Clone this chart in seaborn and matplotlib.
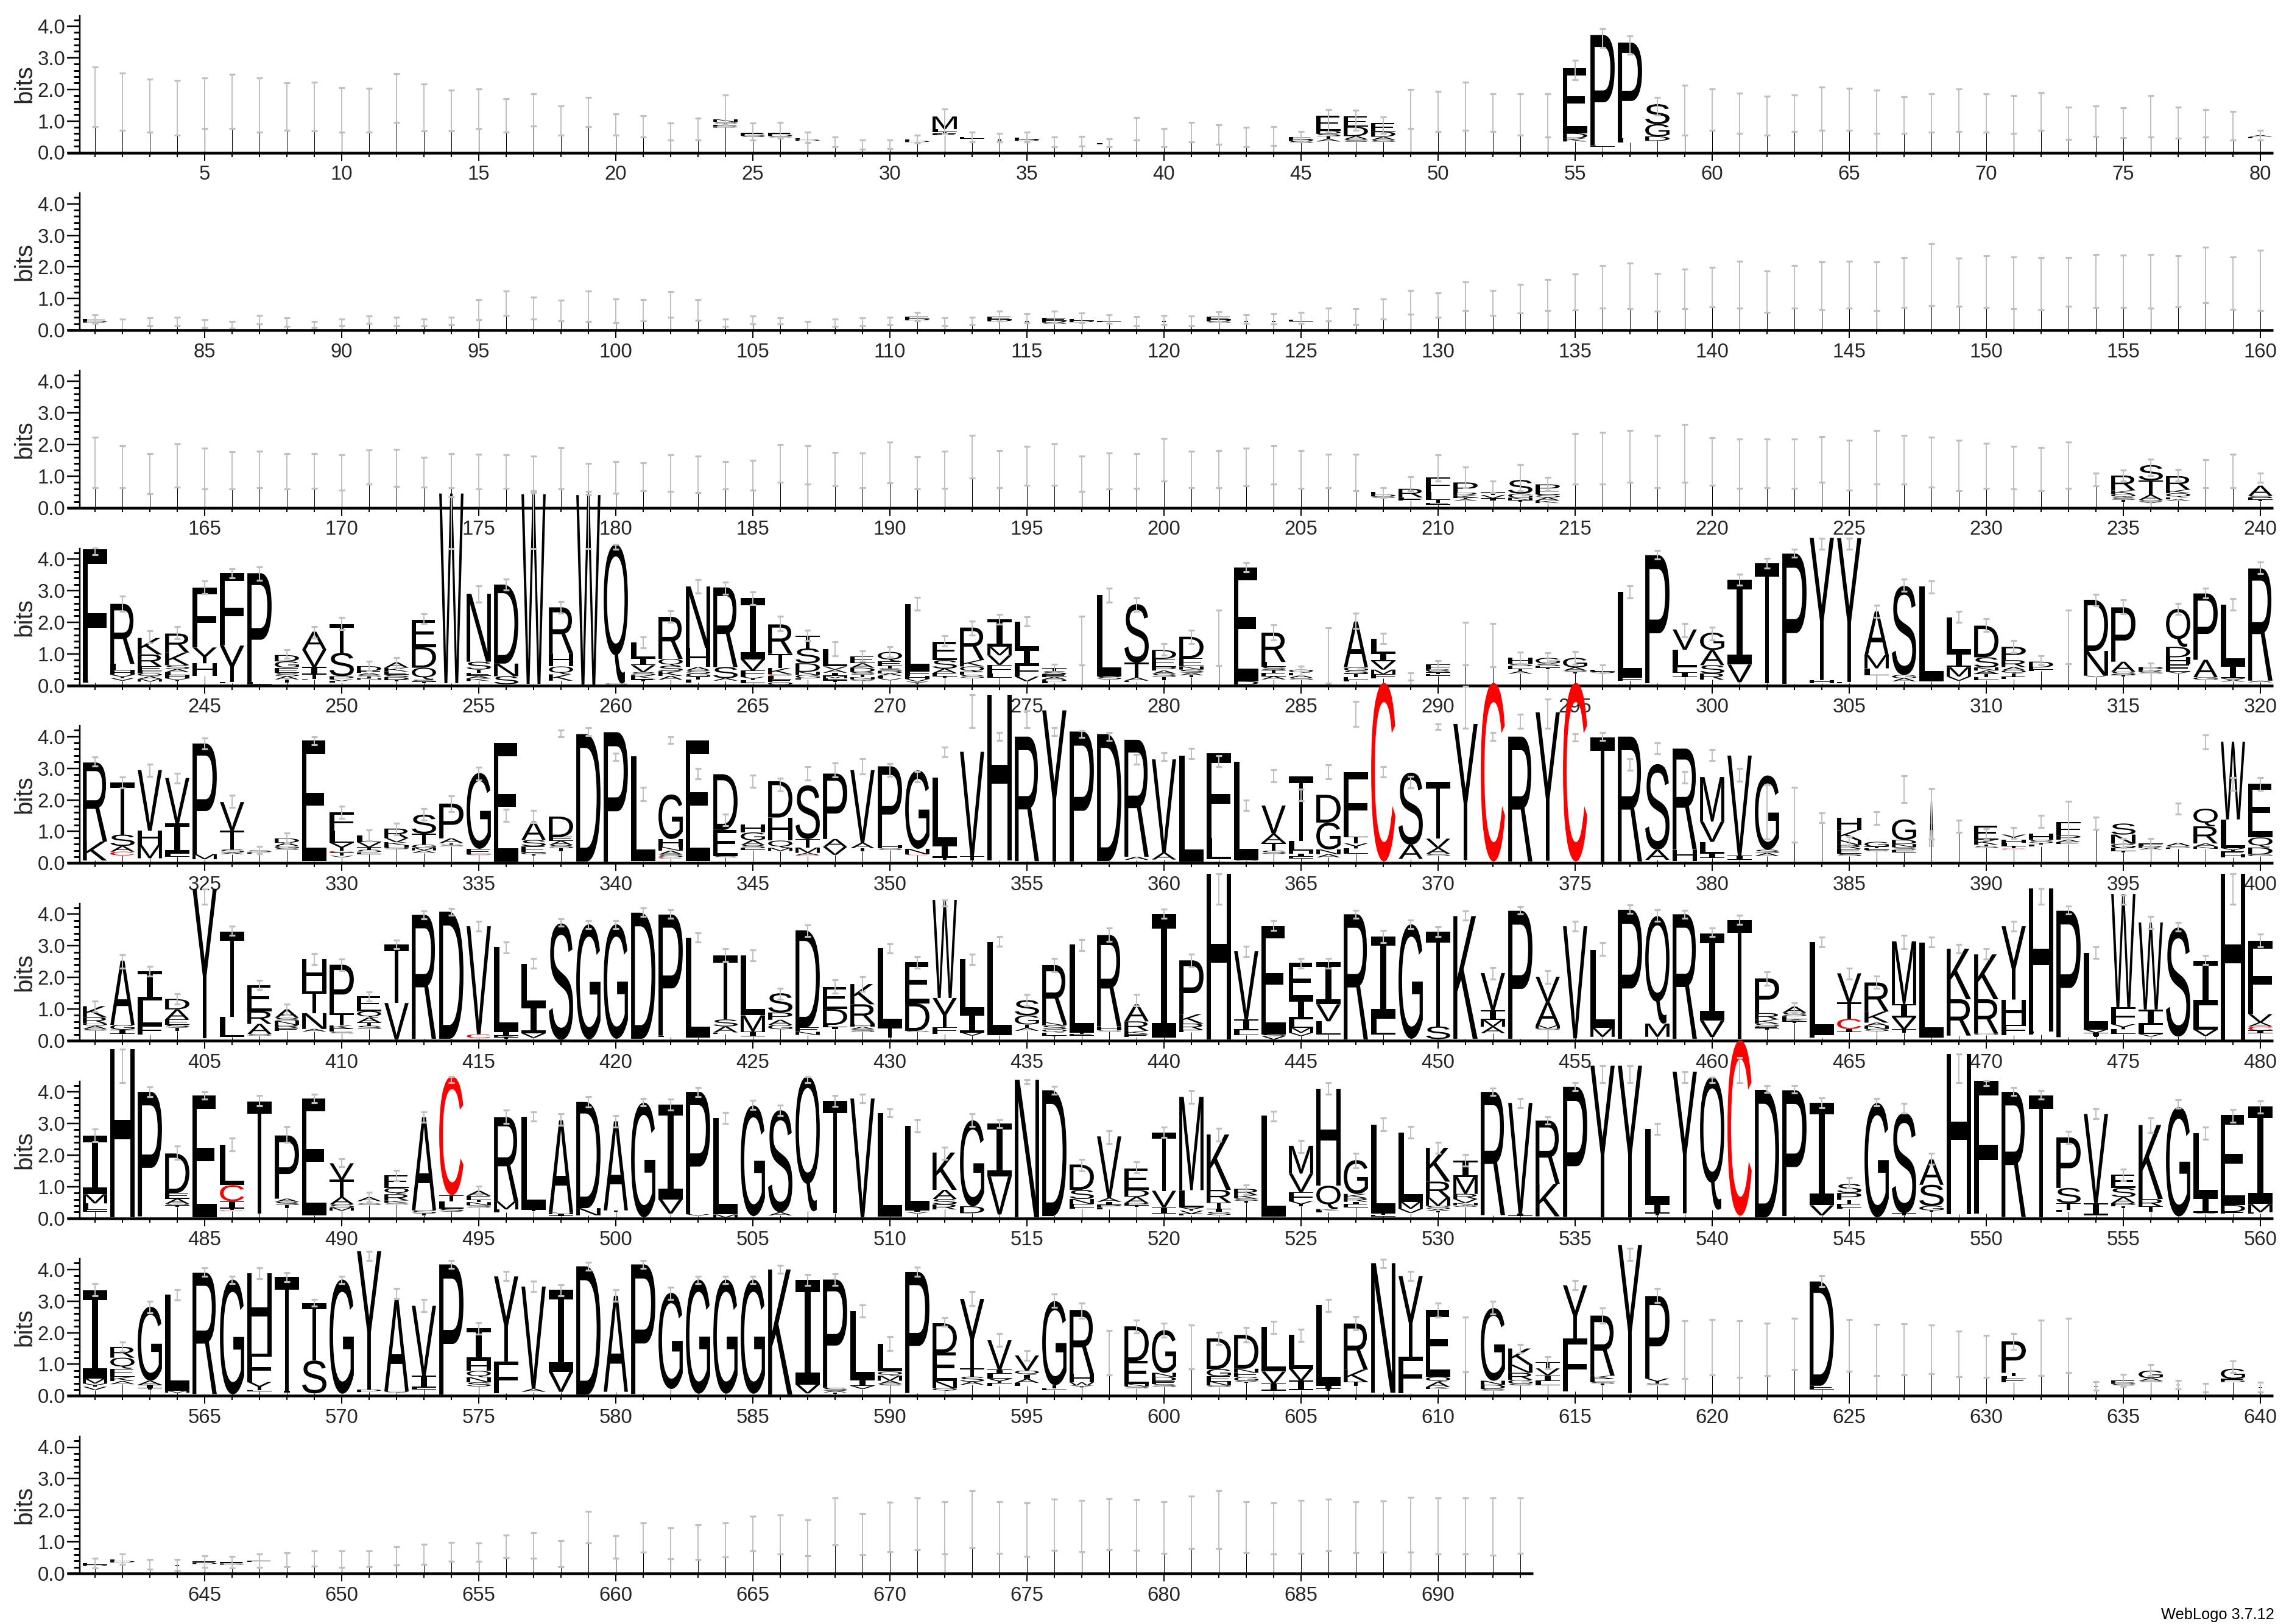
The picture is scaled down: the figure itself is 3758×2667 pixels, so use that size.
import matplotlib
matplotlib.use("Agg")
import matplotlib.pyplot as plt
import seaborn as sns
import pandas as pd
from matplotlib.font_manager import FontProperties
from matplotlib.patches import PathPatch
from matplotlib.textpath import TextPath
from matplotlib.transforms import Affine2D
from matplotlib.ticker import MultipleLocator

ROW_STARTS = [1, 81, 161, 241, 321, 401, 481, 561, 641]
ROW_ENDS = [80, 160, 240, 320, 400, 480, 560, 640, 693]

HI_1 = [2.7,2.52,2.33,2.28,2.36,2.47,2.36,2.2,2.23,2.06,2.04,2.49,2.16,1.97,2.02,1.71,1.85,1.48,1.74,1.22,1.17,.93,1.09,1.83,.93,.96,.64,.5,.39,.39,.55,1.38,.64,.61,.64,.5,.52,.43,1.11,.77,.96,.87,.8,.82,.66,1.35,1.33,1.12,1.99,1.94,2.23,1.86,1.85,1.86,2.91,3.93,3.69,1.74,2.12,2.01,1.88,1.78,1.83,2.07,2.04,1.97,1.76,1.86,2.02,1.85,1.81,1.9,1.43,1.48,1.41,1.8,1.44,1.35,1.3,.71]
LO_1 = [.82,.71,.64,.55,.77,.77,.64,.71,.68,.64,.64,.96,.68,.68,.77,.64,.84,.55,.82,.55,.5,.39,.39,.87,.39,.45,.32,.18,.1,.13,.29,.61,.34,.34,.34,.18,.21,.18,.39,.18,.34,.26,.18,.23,.34,.66,.71,.61,.77,.66,.71,.66,.55,.5,2.31,3.32,3.11,1.19,.55,.71,.61,.55,.66,.71,.71,.61,.61,.64,.66,.64,.61,.71,.41,.52,.48,.5,.45,.5,.39,.39]
HI_2 = [.49,.35,.38,.4,.33,.28,.46,.38,.28,.35,.45,.4,.35,.4,.97,1.23,1.04,.94,1.23,.99,.97,1.22,.96,.35,.44,.38,.28,.35,.38,.4,.56,.38,.4,.6,.53,.6,.54,.48,.43,.46,.44,.59,.49,.53,.56,.7,.67,.98,1.26,1.18,1.52,1.26,1.44,1.61,1.77,2.05,2.13,1.79,1.93,1.98,2.18,1.88,2.05,2.16,2.19,2.16,2.29,2.74,2.27,2.35,2.32,2.3,2.3,2.39,2.37,2.39,2.35,2.62,2.32,2.53]
LO_2 = [.21,.03,.14,.14,.09,.06,.19,.11,.09,.14,.21,.14,.14,.17,.33,.46,.35,.3,.27,.24,.3,.4,.32,.11,.19,.19,.03,.11,.14,.17,.3,.14,.17,.3,.24,.24,.24,.21,.14,.17,.14,.28,.21,.19,.22,.3,.17,.35,.51,.4,.62,.46,.54,.62,.64,.7,.67,.6,.67,.74,.7,.56,.7,.64,.7,.62,.72,.78,.76,.72,.67,.64,.76,.72,.72,.7,.74,.88,.65,.62]
HI_3 = [2.23,1.97,1.72,2.02,1.89,1.78,1.79,1.72,1.72,1.68,1.83,1.85,1.6,1.72,1.7,1.67,1.63,1.9,1.4,1.46,1.43,1.67,1.63,1.47,1.51,2.0,1.97,1.76,1.73,2.07,1.62,1.79,2.29,1.81,1.94,2.02,1.63,1.73,1.72,2.19,1.79,1.81,1.89,1.97,1.81,1.7,1.7,.64,.99,1.67,1.28,.85,1.36,.96,2.34,2.38,2.45,2.29,2.64,2.21,2.17,2.17,2.18,2.26,2.13,2.45,2.29,2.23,2.13,2.04,1.94,1.91,2.07,1.09,1.19,1.54,1.22,1.52,1.7,1.09]
LO_3 = [.64,.64,.45,.66,.59,.59,.64,.59,.62,.55,.74,.67,.66,.64,.59,.61,.53,.59,.51,.46,.53,.51,.48,.59,.55,.8,.74,.69,.64,.78,.59,.62,.94,.64,.72,.72,.51,.59,.62,.85,.64,.64,.69,.74,.62,.64,.53,.32,.53,.85,.64,.48,.53,.53,.74,.74,.8,.64,.8,.72,.62,.64,.62,.8,.55,.74,.74,.66,.53,.62,.59,.53,.62,.69,.85,1.01,.85,.64,.64,.8]
HI_4 = [4.35,2.82,1.73,1.86,3.3,3.7,3.74,1.12,1.86,2.15,.76,.88,2.27,5.97,3.15,3.37,6.1,2.66,6.05,4.46,1.54,2.37,3.34,3.26,2.95,2.18,1.75,1.38,1.09,1.22,2.79,1.57,2.03,2.25,2.16,.66,2.18,3.07,2.76,1.32,1.75,2.39,3.88,1.91,.61,1.83,2.28,1.64,.4,.79,1.99,1.96,1.05,1.03,1.07,.64,3.15,4.27,1.95,1.84,3.51,4.01,4.3,4.66,4.66,2.54,3.36,3.31,2.34,2.12,1.41,.94,2.39,2.89,2.7,.71,2.6,3.08,2.74,3.9]
LO_4 = [4.13,2.34,1.35,1.48,2.9,3.4,3.32,.85,1.5,1.77,.48,.55,1.95,4.33,2.63,3.02,4.33,2.28,4.33,4.3,1.19,1.99,2.93,2.89,2.55,1.73,1.41,.93,.77,.9,2.38,1.25,1.6,1.93,1.89,.42,.64,2.63,2.34,.96,1.32,.63,3.6,1.44,.32,.06,1.8,1.32,.16,.48,.64,.58,.69,.72,.67,.39,2.76,4.0,1.54,1.44,3.18,3.72,4.06,4.3,4.3,2.15,2.97,2.92,1.99,1.7,1.03,.64,.69,2.52,2.26,.45,2.25,2.76,2.38,3.53]
HI_5 = [3.36,2.72,3.12,2.83,3.96,2.14,.52,.95,4.0,1.8,1.05,1.25,1.73,2.12,3.04,1.7,1.66,4.2,4.28,3.47,2.4,4.0,3.0,1.55,2.78,2.69,3.05,3.16,3.3,3.15,2.9,3.67,5.33,4.13,4.83,4.29,4.19,4.13,3.44,3.49,3.63,3.39,2.0,2.96,2.34,3.1,5.12,3.05,2.75,4.4,5.6,4.13,4.7,5.18,4.1,4.13,3.3,3.81,2.9,3.58,3.0,2.48,2.39,1.58,.83,1.62,2.77,2.35,1.36,1.08,1.12,1.5,1.95,1.46,.78,.77,1.9,4.05,2.71,2.71]
LO_5 = [3.07,2.37,2.75,2.53,3.6,1.76,.29,.64,3.74,1.41,.7,.9,1.36,1.63,2.62,1.31,1.28,4.0,4.03,3.24,1.98,3.78,2.66,1.18,2.4,2.27,2.62,2.72,2.82,2.74,2.56,3.36,4.29,3.87,4.29,4.03,3.97,3.87,3.12,3.24,3.3,3.05,1.66,2.56,1.98,2.66,4.32,2.72,2.37,4.22,4.27,3.87,4.26,4.27,3.86,3.87,2.93,3.46,2.53,3.25,2.59,.76,.67,1.28,.54,1.22,1.92,.76,.97,.74,.77,1.12,.64,1.06,.48,.48,1.54,3.6,2.3,2.3]
HI_6 = [1.26,2.72,2.35,1.49,4.8,3.63,1.9,1.15,2.75,2.59,1.55,3.17,4.1,4.19,3.78,3.12,2.6,3.86,3.8,3.8,4.2,4.14,3.41,2.9,2.88,1.66,3.67,1.92,2.02,3.06,2.66,4.45,2.74,3.3,1.47,2.6,3.2,3.56,1.47,4.16,2.74,5.27,2.99,3.79,2.6,2.6,4.13,3.49,3.81,3.6,4.1,2.32,4.24,2.21,3.78,3.1,4.29,4.14,4.13,3.57,3.97,2.18,1.2,3.28,2.3,2.04,3.33,3.28,3.05,2.91,3.78,4.82,4.25,2.96,4.6,3.94,3.74,2.69,5.27,3.37]
LO_6 = [.93,2.3,2.05,1.15,4.32,3.33,1.62,.83,2.4,2.21,1.25,2.91,3.86,3.97,3.46,2.78,2.3,3.63,3.55,3.55,3.94,3.87,3.12,2.5,2.52,1.31,3.3,1.5,1.57,2.78,2.3,4.26,2.4,2.98,1.09,2.18,2.85,3.14,1.09,3.87,2.34,4.32,2.66,3.49,2.3,2.3,3.87,3.1,3.55,3.3,3.81,1.95,4.0,1.82,3.46,2.7,4.03,3.78,3.87,3.3,3.68,1.76,.88,2.96,1.95,1.66,2.91,2.96,2.78,2.58,3.46,4.32,4.0,2.6,4.32,3.55,3.46,2.4,4.32,2.96]
HI_7 = [2.83,5.36,4.15,2.29,4.0,2.54,3.88,2.9,3.92,1.89,.83,1.52,3.36,4.48,1.01,3.42,3.36,3.3,3.84,3.25,3.79,3.78,4.13,3.34,3.73,3.58,4.49,3.89,3.92,3.47,3.12,2.25,3.3,3.12,4.38,4.17,1.86,2.77,1.78,2.89,4.04,2.85,1.06,3.39,2.46,4.29,2.05,3.17,2.9,2.4,2.02,4.12,3.79,3.21,4.29,4.83,4.83,3.0,4.64,4.47,5.09,4.2,4.2,3.81,1.29,3.79,3.63,2.05,5.2,4.35,4.13,4.05,2.74,3.47,1.55,3.17,3.75,2.88,3.45,3.71]
LO_7 = [2.43,4.3,3.84,1.86,3.78,2.13,3.55,2.4,3.66,1.63,.51,1.18,3.04,4.29,.74,3.0,3.07,2.94,3.52,2.89,3.55,3.42,3.84,3.0,3.44,3.26,4.29,3.53,3.66,3.21,2.73,1.87,2.91,2.87,4.26,3.92,1.5,2.37,1.44,2.56,3.64,2.45,.74,3.08,2.08,3.92,1.6,2.77,2.53,2.05,1.66,3.89,3.51,2.98,4.04,4.29,4.29,2.66,4.29,4.29,4.29,3.98,3.97,3.5,.96,3.55,3.33,1.7,4.3,4.19,3.89,3.78,2.37,3.16,1.18,2.72,3.49,2.5,3.04,3.33]
HI_8 = [3.56,1.71,3.0,3.36,4.05,3.78,4.05,3.9,3.05,3.78,4.58,3.39,3.05,4.29,2.32,3.94,3.63,3.52,4.22,3.36,4.29,3.44,3.78,3.78,3.78,4.13,3.84,3.87,2.88,1.87,4.08,2.48,3.31,1.98,1.44,3.22,2.94,2.06,2.4,2.31,2.24,2.01,2.16,2.36,2.11,3.05,2.51,4.33,3.94,2.94,2.5,3.0,1.63,1.25,3.65,2.78,4.67,3.4,2.37,2.41,2.37,2.3,2.46,3.8,2.41,2.27,2.28,2.25,2.05,1.92,1.98,2.4,2.45,.45,.68,.99,.49,.4,1.1,.43]
LO_8 = [3.17,1.41,2.62,3.04,3.78,3.56,3.71,3.62,2.84,3.56,4.29,3.07,2.66,4.03,1.95,3.65,3.3,3.17,3.97,3.0,4.03,3.05,3.56,3.56,3.56,3.88,3.5,3.49,2.5,1.44,3.78,2.2,2.85,1.57,1.12,2.8,2.46,.67,2.0,1.86,.86,1.63,1.7,1.98,1.73,2.67,2.09,4.05,3.65,2.5,.76,2.58,1.35,.86,3.36,2.3,4.29,2.96,.55,.67,.58,.65,.83,3.46,.77,.64,.66,.7,.61,.58,1.48,.64,.74,.19,.29,.64,.22,.13,.74,.13]
HI_9 = [.48,.61,.44,.45,.57,.54,.62,.66,.71,.72,.72,.85,.93,.99,.97,1.22,1.29,1.05,1.97,1.19,1.6,1.44,1.54,1.6,1.81,1.86,1.7,2.39,1.89,2.26,2.39,2.28,2.62,2.28,2.24,2.35,2.32,2.37,2.33,2.28,2.44,2.62,2.28,2.24,2.31,2.35,2.28,2.3,2.42,2.4,2.4,2.39,2.4]
LO_9 = [.17,.3,.13,.1,.2,.17,.19,.22,.24,.2,.22,.27,.3,.38,.38,.51,.48,.22,.96,.48,.67,.46,.45,.53,.71,.61,.56,.9,.59,.69,.76,.62,.81,.64,.54,.74,.69,.76,.74,.64,.8,.79,.65,.61,.64,.72,.65,.67,.67,.62,.62,.58,.63]

STACKS_1 = {24: "1.05 N.08 S.05 T.05 E.04 D.04", 25: ".62 E.05 D.04 S.04", 26: ".62 E.05 D.05 S.04", 27: ".45 E.04 D.04",
    31: ".42 E.05 D.04", 32: "1.14 M.4 L.08 T.06 E.05", 33: ".5 E.06", 34: ".42 T.05", 35: ".48 E.06 D.05", 38: ".3 L.04", 45: ".5 E.08 D.06 S.05",
    46: "1.16 E.47 D.1 S.08 T.08 A.08", 47: "1.14 E.32 D.3 A.1 S.08", 48: ".93 E.27 D.16 A.1 S.06",
    55: "2.66 E2.05 D.16 K.1", 56: "3.72 P3.49 L.04", 57: "3.48 P3.03 L.14", 58: "1.53 S.63 G.39 D.14", 80: ".55 A.05 E.05"}
STACKS_2 = {81: ".35 E.06 D.05", 111: ".42 E.06 D.05", 114: ".42 E.08 D.06", 115: ".3 T.04", 116: ".38 E.08 D.06 S.04", 117: ".36 E.06 D.05",
    118: ".3 L.04", 120: ".3 T.04", 122: ".42 E.08 D.06 S.04", 123: ".3 T.04", 124: ".3 T.04", 125: ".33 E.05"}
STACKS_3 = {208: ".5 E.08 D.06 S.05", 209: ".6 R.27 L.05 E.05", 210: ".97 F.48 L.24 T.1 E.05", 211: ".8 P.32 R.08 K.08 T.05 A.05",
    212: ".5 T.1 V.1 I.08", 213: ".88 S.43 G.13 N.08 T.05", 214: ".74 P.21 E.1 S.1 A.1 K.08",
    235: "1.02 R.47 K.12 Q.1 S.08 T.05", 236: "1.35 S.48 T.46 A.16 S.05 V.05", 237: "1.0 R.43 K.11 Q.13 E.06 A.05", 240: ".7 A.32 S.06 E.06 T.05"}
STACKS_4 = {241: "4.3 F4.17 L.05", 242: "2.58 R1.9 L.2 H.15 Y.1 V.08", 243: "1.5 K.52 R.38 E.12 F.1 Q.1 A.08 M.08", 244: "1.64 R.6 K.4 S.12 A.1 L.1 H.1 Y.08",
    245: "3.1 F1.9 Y.5 H.4", 246: "3.56 F2.3 Y1.15 L.05", 247: "3.55 P3.45 L.06", 248: ".96 D.2 G.2 E.17 S.1 A.1 T.1", 249: "1.7 A.57 V.55 I.22 T.15 L.03", 250: "1.93 T.9 S.74 P.1 V.05 L.05",
    251: ".61 D.16 E.06 A.06 S.05 T.05 N.05", 252: ".73 A.17 K.12 E.1 S.08 D.08 T.06", 253: "2.08 E.87 D.65 Q.38 S.06 T.06", 254: "6.07 W6.0", 255: "2.9 N2.15 S.25 T.1 E.1 A.08 K.08",
    256: "3.19 D2.5 N.4 S.25", 257: "6.05 W6.0", 258: "2.47 R1.45 H.42 Q.25 K.2", 259: "6.02 W6.0", 260: "4.46 Q4.4 S.03",
    261: "1.36 L.5 I.22 V.22 S.1 K.1 E.05 T.05", 262: "2.17 R1.33 Q.22 S.17 K.15 A.12", 263: "3.13 N1.95 H.6 A.1 S.1 G.1 T.1 L.1", 264: "3.1 R2.52 S.35 A.08", 265: "2.77 I1.95 V.35 F.2 Y.1 L.1",
    266: "1.93 R.93 T.45 K.2 C.05 L.1 E.1 Q.1", 267: "1.57 T.4 S.47 D.27 N.1 G.1 L.05", 268: "1.15 L.55 V.1 A.1 I.1 M.07 F.07 T.05", 269: ".92 E.22 A.14 D.14 S.08 T.08 N.06 Q.06", 270: "1.06 Q.3 E.14 T.08 S.08 D.08 A.08 L.08 V.06",
    271: "2.58 L2.13 F.15 H.1 V.08 Y.06", 272: "1.37 E.57 S.27 A.14 E.1 T.05", 273: "1.83 R1.03 K.2 Q.17 E.1 S.1", 274: "2.09 I.87 M.27 V.3 F.27 L.13", 275: "2.02 L.87 I.5 F.37 V.15",
    276: ".55 T.1 S.1 E.08 A.08 D.06 L.06", 278: "2.87 L2.58 S.1", 279: "2.57 S1.85 T.47 A.1 E.05", 280: "1.12 D.28 E.25 P.12 A.1 S.1 T.1",
    281: "1.54 D.68 E.26 N.1 S.1 A.08 T.06", 283: "3.73 E3.6 D.1", 284: "1.67 R.93 L.15 S.1 T.1 E.1 A.1", 285: ".5 Q.1 E.08 A.08 S.06", 287: "2.02 A1.45 G.1 S.1 T.1 E.1 L.05",
    288: "1.48 L.45 I.26 V.27 M.15 F.12", 290: ".67 F.16 R.05 S.05 T.05 E.05", 293: ".87 H.18 S.08 E.08 T.08 A.08", 294: ".87 G.18 S.08 E.05 T.05", 295: ".87 G.3 A.1 S.05 T.05",
    296: ".5 E.06 S.05", 297: "2.95 L2.7 F.1", 298: "4.12 P4.05", 299: "1.77 V.64 L.55 F.16 I.16", 300: "1.67 G.55 A.48 S.26 R.2",
    301: "3.34 I2.68 V.56", 302: "3.87 T3.8", 303: "4.17 P4.12", 304: "4.67 Y4.5 H.1", 305: "4.66 Y4.55 F.05",
    306: "2.34 A1.38 M.42 L.22", 307: "3.15 S2.82 G.1 A.1", 308: "3.13 L3.0", 309: "2.15 L1.12 I.45 M.3 V.13", 310: "1.89 D1.0 S.32 N.1 A.1 T.1 E.1",
    311: "1.22 P.42 R.22 A.1 Q.1 T.1 E.08", 312: ".75 D.18 E.07 F.05", 314: "2.71 D1.62 N.78 V.05", 315: "2.47 P1.72 A.32 S.1 T.05", 316: ".58 P.1 R.05 S.05",
    317: "2.42 Q1.2 D.33 H.23 E.23 V.05", 318: "2.91 P2.1 A.55 G.08", 319: "2.56 L1.92 I.42 V.05 A.05", 320: "3.7 R3.55 A.05"}
STACKS_5 = {321: "3.18 R2.5 K.6", 322: "2.55 T1.65 S.36 A.18 C.12", 323: "2.94 V1.92 H.45 M.42", 324: "2.69 V1.44 I.95 L.1", 325: "3.78 P3.5 M.16",
    326: "1.93 V.9 T.6 S.1 A.05", 327: ".4 S.06 E.05", 328: ".78 D.14 A.1 G.07 S.05", 329: "3.87 E3.8", 330: "1.6 F.58 L.38 Y.26 C.05 T.1 V.05",
    331: ".88 L.22 V.16 T.08 S.08 E.06", 332: "1.09 R.3 V.13 K.1 H.07 S.05", 333: "1.53 S.6 T.35 G.1 M.08 A.08", 334: "1.88 P1.1 A.15 T.05 S.05", 335: "2.85 G2.4 E.17 C.03",
    336: "3.8 E3.75", 337: "1.31 A.58 S.2 E.2 G.05 T.05", 338: "1.47 D.64 E.13 A.13 S.1 T.1", 339: "4.08 D4.03", 340: "4.14 P4.1",
    341: "3.37 L3.3", 342: "2.17 G1.41 H.25 N.12 A.12 S.08 C.05", 343: "3.88 E3.82", 344: "2.81 D1.76 E.83 S.04", 345: "1.22 H.25 G.25 A.15 S.1 E.05",
    346: "2.59 D1.15 H.73 Q.23 M.1", 347: "2.46 S1.7 T.27 M.17 A.07 C.03", 348: "2.83 P2.07 A.25 V.25", 349: "2.94 V2.3 A.17 T.1", 350: "3.06 P2.5 H.1 S.05",
    351: "2.93 G2.48 N.17 C.03", 352: "2.7 L2.12 I.42 T.05", 353: "3.52 V3.3 T.13", 354: "5.33 H5.25", 355: "4.0 R3.94",
    356: "4.83 Y4.78", 357: "4.16 P4.11", 358: "4.08 D4.02", 359: "3.9 R3.7 A.1", 360: "3.28 V2.95 A.22",
    361: "3.4 L3.35", 362: "3.47 F2.67 L.67", 363: "3.2 L3.1 S.03", 364: "1.82 V.9 A.28 T.25 S.1", 365: "2.75 T2.05 L.3 H.1 I.1 E.05",
    366: "2.16 D.88 G.85 N.15 A.1", 367: "2.87 F2.03 T.22 Y.16 L.16", 368: "5.7 C5.65", 369: "2.86 S2.28 A.45", 370: "2.56 T1.79 V.29 A.19 S.06",
    371: "4.4 Y4.3", 372: "5.7 C5.65", 373: "4.0 R3.95", 374: "4.77 Y4.7", 375: "5.7 C5.65",
    376: "3.98 T3.93", 377: "4.0 R3.95", 378: "3.13 S2.71 A.32", 379: "3.62 R3.2 H.35", 380: "2.72 M1.41 V.64 L.35 I.16",
    381: "3.4 V3.17 I.13", 382: "2.77 G2.35 S.1 A.1", 385: "1.44 H.4 K.32 N.15 R.12 E.15 S.08", 386: ".67 G.15 T.05 E.05 S.05", 387: "1.38 G.65 D.13 N.1 S.08 E.08",
    390: "1.18 E.45 K.15 T.05 S.05", 391: ".9 Y.16 H.1 L.1 T.08 C.03", 392: ".93 H.2 S.1 T.05 L.05", 393: "1.3 F.43 P.13 A.08 E.06", 395: "1.25 S.35 N.29 G.13 E.1 T.05",
    396: ".62 F.08 R.06 A.05", 397: ".64 A.1 S.05 E.05", 398: "1.72 Q.56 R.54 A.1 N.07", 399: "3.84 W2.46 L.91 Y.1 E.1 H.1", 400: "2.51 E1.7 Q.32 D.22 G.05"}
STACKS_6 = {401: "1.09 K.35 R.2 Q.07 A.1 S.05", 402: "2.53 A2.03 G.15 I.13", 403: "2.2 I.92 L.8 F.29", 404: "1.32 D.33 A.32 E.16 S.1 T.1", 405: "4.8 Y4.72",
    406: "3.45 T2.69 L.65", 407: "1.76 E.83 R.4 A.32 S.05", 408: ".99 A.27 S.1 N.12 R.1 E.1", 409: "2.58 H1.01 T.7 N.5 A.08", 410: "2.4 P1.54 T.38 K.1 E.1 S.05",
    411: "1.41 E.48 Q.2 A.16 T.1 S.1", 412: "3.04 T1.85 V1.15", 413: "3.98 R3.92", 414: "4.08 D4.02", 415: "3.62 V3.42 C.12",
    416: "2.96 L2.68 I.12 K.05 T.05", 417: "2.43 L1.3 I.9 V.14", 418: "3.71 S3.68", 419: "3.68 G3.64", 420: "3.68 G3.62",
    421: "4.05 D3.99", 422: "3.99 P3.83 L.05", 423: "3.26 L3.17", 424: "2.69 T2.02 S.22 A.19 E.05", 425: "2.69 L1.89 M.51 I.16",
    426: "1.5 S.61 P.23 A.16 G.14", 427: "3.49 D3.07 E.14 N.1", 428: "1.7 E.7 D.5 L.07 I.07", 429: "1.79 K.64 R.61 H.1 A.08 S.08", 430: "2.92 L2.5 T.32",
    431: "2.48 E1.3 D.87 S.03", 432: "4.45 W3.1 Y.93 F.2", 433: "2.58 L1.72 I.6 V.1", 434: "3.12 L2.95", 435: "1.28 S.48 G.29 T.1 A.1",
    436: "2.39 R1.81 N.1 S.12 Q.1 E.1 T.03", 437: "3.04 L2.78 T.05 E.05", 438: "3.34 R2.89 H.13 S.03", 439: "1.15 A.54 R.3 K.1 E.1", 440: "4.0 I3.9",
    441: "2.54 P1.7 K.3 R.2 E.07", 442: "5.27 H5.23", 443: "2.83 V2.15 I.35 L.15", 444: "3.62 E3.42 S.06 V.1", 445: "2.46 E1.15 I.64 L.26 M.16 V.1",
    446: "2.49 I1.34 V.54 L.42", 447: "4.0 R3.96", 448: "3.3 I2.6 L.5", 449: "3.68 G3.62", 450: "3.44 T2.99 S.4",
    451: "3.94 K3.88", 452: "2.14 V1.18 I.3 M.22 A.2", 453: "4.11 P4.05", 454: "2.02 V.8 A.74 M.1 S.04", 455: "3.62 V3.55",
    456: "2.88 L2.47 M.29", 457: "4.14 P4.08", 458: "3.94 Q3.4 M.42", 459: "4.0 R3.94", 460: "3.4 I2.77 V.52",
    461: "3.82 T3.76", 462: "1.97 P1.1 R.2 K.13 S.1 E.05 T.05", 463: "1.08 A.2 S.1 E.1 K.07 T.05", 464: "3.12 L2.93 F.1", 465: "2.13 V.92 T.52 C.32 I.1",
    466: "1.84 R.92 K.35 A.1 N.1 S.07", 467: "3.14 M1.98 I.42 V.38 T.1", 468: "3.1 L3.0", 469: "2.91 K1.6 R1.15", 470: "2.73 K1.42 R1.09 Q.04",
    471: "3.62 Y2.32 H.8 F.32", 472: "4.82 H4.53 F.05 E.05", 473: "4.11 P4.0", 474: "2.78 L2.43 V.1 I.1 T.03", 475: "4.64 W3.58 F.54 Y.16 L.14",
    476: "3.74 W2.75 I.48 L.3 V.08", 477: "3.58 S3.45", 478: "2.53 I1.41 L.77 V.2", 479: "5.27 H5.25", 480: "3.16 F2.32 V.26 A.13 C.13 I.08"}
STACKS_7 = {481: "2.61 I1.85 M.29 L.2 E.06", 482: "5.36 H5.33", 483: "4.0 P3.94", 484: "2.05 D1.25 E.18 A.16 S.05 T.05", 485: "3.89 E3.86",
    486: "2.32 L1.27 C.51 I.23 T.05 C.03", 487: "3.7 T3.55", 488: "2.62 P2.0 A.1 S.1 T.1", 489: "3.79 E3.7", 490: "1.74 V.52 T.55 A.23 S.1 M.1",
    491: ".67 A.13 T.07 S.05", 492: "1.36 E.4 Q.2 R.2 K.07 S.05", 493: "3.2 A2.95 S.1 T.05", 494: "4.49 C3.76 T.2 L.22 S.1", 495: ".87 A.16 E.13 T.07 N.1 S.07",
    496: "3.2 R2.66 M.26 L.1", 497: "3.22 L2.95 T.05", 498: "3.1 A2.92 N.05 I.05", 499: "3.68 D3.36 N.23", 500: "3.07 A2.82 T.05",
    501: "3.66 G3.63", 502: "3.6 I3.0 V.45", 503: "4.0 P3.87 V.05", 504: "3.17 L3.05 M.1", 505: "3.57 G3.5",
    506: "3.42 S3.23 A.1", 507: "4.49 Q4.27", 508: "3.72 T3.56", 509: "3.79 V3.76", 510: "3.33 L3.27",
    511: "2.93 L2.68 I.05 V.05", 512: "2.08 K1.18 A.29 S.17 R.16", 513: "3.1 G2.72 D.22", 514: "3.0 I1.68 V1.2", 515: "4.38 N4.35",
    516: "4.05 D3.98", 517: "1.7 D.8 S.29 N.16 E.1 L.05", 518: "2.59 V1.95 A.12 I.1 P.07 L.07", 519: "1.57 E.67 D.22 A.2 P.07 T.05", 520: "2.72 T1.85 V.52 I.2",
    521: "3.84 M2.95 L.55 Y.1 V.1 E.05", 522: "2.65 K1.75 R.4 T.2 I.1 S.1", 523: ".93 R.2 K.1 S.08 T.06", 524: "3.25 L3.2", 525: "2.29 M.88 V.58 F.29 Y.16",
    526: "4.1 H3.07 Q.74 K.05 L.05", 527: "1.84 G1.07 K.13 R.12 I.07 E.1", 528: "2.96 L2.8 T.05 E.05", 529: "2.72 L2.2 M.22 V.13", 530: "2.23 K1.07 R.51 M.26 S.1 A.06 T.05",
    531: "1.82 I.51 M.54 R.16 V.13 N.07 A.05", 532: "4.0 R3.9", 533: "3.65 V3.5 I.07", 534: "3.09 R2.0 K1.03", 535: "4.16 P4.12",
    536: "4.83 Y4.8", 537: "4.83 Y4.8", 538: "2.82 L2.37 I.3 T.05", 539: "4.64 Y4.48", 540: "4.47 Q4.2",
    541: "5.63 C5.55", 542: "4.06 D4.03", 543: "4.05 P3.98", 544: "3.66 I3.25 V.32", 545: "1.09 S.29 P.22 T.13 E.1 L.05",
    546: "3.65 G3.62", 547: "3.33 S3.17 T.06", 548: "1.86 A.8 S.67 G.14 T.05", 549: "5.2 H5.08", 550: "4.35 F4.2",
    551: "4.0 R3.96", 552: "3.89 T3.85", 553: "2.56 P1.6 S.48 T.22 L.05", 554: "3.3 V2.82 I.38", 555: "1.38 E.42 S.29 A.19 P.1 T.05",
    556: "2.95 K2.34 R.24 T.16", 557: "3.52 G3.46", 558: "2.69 L2.02 I.5 V.03", 559: "3.27 E2.85 D.22 E.05", 560: "3.53 I3.08 M.26 L.05"}
STACKS_8 = {561: "3.35 I2.8 M.16 Y.1 V.1", 562: "1.55 R.34 Q.35 E.26 K.13 A.1", 563: "2.82 G2.34 A.13 I.1 T.05", 564: "3.2 L3.04 M.06", 565: "3.9 R3.84",
    566: "3.68 G3.63", 567: "3.88 H2.54 F.9 Y.26 L.03", 568: "3.76 T3.6 I.06", 569: "2.94 T1.82 S1.04", 570: "3.68 G3.61",
    571: "4.58 Y4.38 P.08", 572: "3.07 A2.91 Q.06", 573: "2.85 V2.21 I.38 L.05", 574: "4.16 P4.12", 575: "2.14 I1.03 H.32 Q.2 N.16 S.13",
    576: "3.78 Y2.69 F1.0", 577: "3.46 V3.23 A.1", 578: "3.36 I2.6 V.63", 579: "4.1 D4.06", 580: "3.17 A3.04",
    581: "4.16 P4.1", 582: "3.26 G3.04", 583: "3.68 G3.61", 584: "3.68 G3.61", 585: "3.68 G3.61",
    586: "4.0 K3.96", 587: "3.66 I3.3 V.28", 588: "3.68 P3.42 S.1 A.05 T.05", 589: "2.68 L2.16 I.2 V.1", 590: "1.65 L.88 Q.13 M.16 A.1 S.05",
    591: "3.92 P3.83", 592: "2.3 D.93 E.9 N.23 Q.08", 593: "3.07 Y2.2 T.26 S.16 A.1", 594: "1.76 V.93 I.13 L.16 Y.13 F.1", 595: "1.28 V.48 Q.13 I.13 A.13 L.1",
    596: "3.0 G2.66 T.1 E.05", 597: "2.72 R2.02 H.27 W.1 Y.06", 599: "2.2 D1.1 E.72 N.08 S.06", 600: "2.08 G1.35 N.13 D.13 E.1 S.08",
    602: "1.82 D.97 G.23 E.16 N.13 S.05", 603: "1.93 D1.07 N.13 E.13 G.13 Y.06", 604: "2.18 L1.41 V.38 I.22", 605: "1.93 L1.07 V.38 I.3", 606: "2.87 L2.55 I.1 T.05", 607: "2.29 R1.46 K.38 T.13",
    608: "4.2 N4.1", 609: "3.79 Y2.55 F1.15", 610: "2.72 E2.12 Q.16 A.16 K.06", 612: "2.78 G2.3 N.13 D.13 S.05", 613: "1.5 K.51 N.26 R.22 G.13 S.05",
    614: "1.07 T.2 V.22 I.18 L.13", 615: "3.5 Y1.68 F1.67", 616: "2.54 R1.9 K.1 E.1 S.05 T.05", 617: "4.77 Y4.68", 618: "3.16 P2.61 Y.16 S.05",
    624: "3.62 D3.3 E.12", 631: "1.73 P1.0 T.1 L.1 E.1", 634: ".32 T.03", 635: ".48 E.05 D.05 S.05", 636: ".8 G.24 A.08 S.04", 637: ".36 T.03", 639: ".86 G.32 E.05 D.05", 640: ".28 T.03"}
STACKS_9 = {641: ".33 E.05 D.04", 642: ".45 E.05 D.05", 644: ".27 T.03", 645: ".38 E.04 D.04", 646: ".36 E.04 D.04", 647: ".4 E.04"}
NARROW_5 = {388: "2.34 A1.83"}

ALL_HI = [HI_1, HI_2, HI_3, HI_4, HI_5, HI_6, HI_7, HI_8, HI_9]
ALL_LO = [LO_1, LO_2, LO_3, LO_4, LO_5, LO_6, LO_7, LO_8, LO_9]
ALL_STACKS = [STACKS_1, STACKS_2, STACKS_3, STACKS_4, STACKS_5, STACKS_6, STACKS_7, STACKS_8, STACKS_9]

W, H, DPI = 3758, 2667, 100
PX = 72 / DPI
FIRST_X, STEP_X = 156.0, 45.0
SPINE_X = 131.0
BASE_Y0, BASE_DY = 250.5, 291.7
BITS_PX = 51.9
TOP_BITS = 4.335

sns.set_theme(style="ticks")
plt.rcParams["font.family"] = ["Liberation Sans", "DejaVu Sans"]

SANS = FontProperties(family="Liberation Sans")
MONO = FontProperties(family="Liberation Mono")
glyph_cache = {}


def glyph(ch):
    if ch not in glyph_cache:
        tp = TextPath((0, 0), ch, size=1, prop=MONO if ch == "I" else SANS)
        bb = tp.get_extents()
        glyph_cache[ch] = tp.transformed(
            Affine2D().translate(-bb.x0, -bb.y0).scale(1 / bb.width, 1 / bb.height))
    return glyph_cache[ch]


def draw_stack(ax, p, spec, width):
    tokens = spec.split()
    y = float(tokens[0])
    for tok in tokens[1:]:
        ch, val = tok[0], float(tok[1:])
        y -= val
        tf = Affine2D().scale(width, val).translate(p - width / 2, y)
        color = "#ff0000" if ch == "C" else "black"
        ax.add_patch(PathPatch(tf.transform_path(glyph(ch)), fc=color, ec="none", lw=0,
                               clip_on=False, zorder=2))
    return y


fig = plt.figure(figsize=(W / DPI, H / DPI), dpi=DPI, facecolor="white")
for r, (start, end) in enumerate(zip(ROW_STARTS, ROW_ENDS)):
    base = BASE_Y0 + r * BASE_DY
    right_px = FIRST_X + (end - start + 0.47) * STEP_X
    ax = fig.add_axes([SPINE_X / W, 1 - base / H, (right_px - SPINE_X) / W, TOP_BITS * BITS_PX / H])
    ax.patch.set_alpha(0)
    positions = list(range(start, end + 1))
    hi, lo = ALL_HI[r], ALL_LO[r]
    frame = pd.DataFrame({"pos": positions, "hi": hi, "lo": lo})
    left = start - (FIRST_X - SPINE_X) / STEP_X

    stacks = ALL_STACKS[r]
    for p, h, l in zip(positions, hi, lo):
        spec = stacks.get(p)
        if spec is None:
            ax.vlines(p, 0, l, color="black", lw=1.0 * PX, zorder=1)
            continue
        y = draw_stack(ax, p, spec, 0.884)
        if y > 0.03:
            ax.vlines(p, 0, y, color="black", lw=1.0 * PX, zorder=1)
    if r == 4:
        for p, spec in NARROW_5.items():
            draw_stack(ax, p, spec, 0.14)

    ax.vlines(frame["pos"], frame["lo"], frame["hi"], color="#c0c0c0", lw=2 * PX, zorder=3, clip_on=False)
    for col in ("hi", "lo"):
        sns.scatterplot(data=frame, x="pos", y=col, marker="_", s=(10 * PX) ** 2, color="#c0c0c0",
                        linewidth=3.2 * PX, ax=ax, legend=False, zorder=4, clip_on=False)

    ax.hlines(0, start - (FIRST_X - 110) / STEP_X, end + 0.47, color="black", lw=4.5 * PX, clip_on=False, zorder=5)
    ax.set_xlim(left, end + 0.47)
    ax.set_ylim(0, TOP_BITS)
    ax.set_xlabel("")
    ax.set_ylabel("bits", fontsize=29, va="center")
    ax.yaxis.set_label_coords((40 - SPINE_X) / (right_px - SPINE_X), 0.5)

    major = [p for p in positions if p % 5 == 0]
    ax.set_xticks(major)
    ax.set_xticklabels([str(p) for p in major])
    ax.set_xticks(positions, minor=True)
    ax.tick_params(axis="x", which="major", length=13 * PX, width=2 * PX, labelsize=23.7, pad=7.5 * PX, color="black")
    ax.tick_params(axis="x", which="minor", length=7 * PX, width=2 * PX, color="black")
    ax.set_yticks([0, 1, 2, 3, 4])
    ax.set_yticklabels(["0.0", "1.0", "2.0", "3.0", "4.0"])
    ax.yaxis.set_minor_locator(MultipleLocator(0.2))
    ax.tick_params(axis="y", which="major", length=21 * PX, width=2.5 * PX, labelsize=23.7, pad=3 * PX, color="black")
    ax.tick_params(axis="y", which="minor", length=10 * PX, width=3 * PX, color="black")
    sns.despine(ax=ax, top=True, right=True, bottom=True)
    ax.spines["left"].set_linewidth(2.5 * PX)
    ax.spines["left"].set_color("black")

fig.text(3734 / W, 1 - 2652 / H, "WebLogo 3.7.12", ha="right", va="center", fontsize=18.3, color="black")
fig.savefig("out.png", dpi=DPI, facecolor="white")
